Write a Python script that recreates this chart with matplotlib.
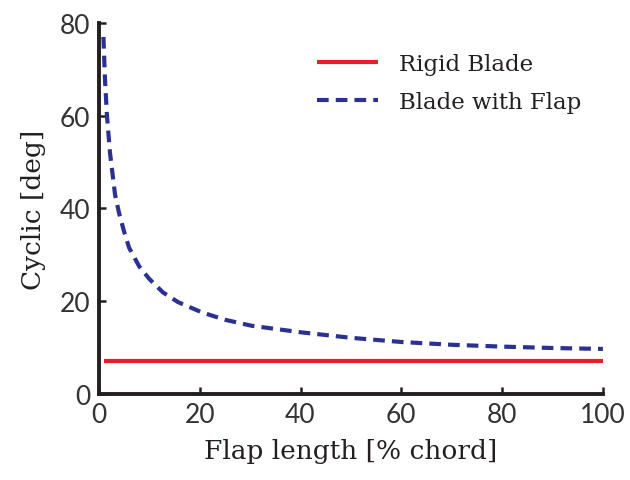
import matplotlib.pyplot as plt

# flap length [% chord]
flap_len = [0.9, 1.2, 1.6, 2.2, 3.2, 4, 5, 6, 8, 10, 12.7, 15.7, 20.4, 25, 30.3, 40, 50, 60, 70, 80, 90, 100]
# cyclic pitch with flap [deg]
cyclic_flap = [77, 68, 60, 52, 43, 39, 35, 31.5, 27.5, 24.8, 21.9, 19.8, 17.6, 16, 14.7, 13.3, 12.1, 11.2, 10.6, 10.2, 9.9, 9.7]
# rigid blade cyclic [deg]
rigid_x = [1, 100]
rigid_y = [7, 7]

fig = plt.figure(figsize=(6.3, 4.81), dpi=100)
ax = fig.add_axes([0.157, 0.179, 0.8, 0.771])

ax.plot(rigid_x, rigid_y, color='#ee1c24', lw=3, label='Rigid Blade', solid_capstyle='butt')
ax.plot(flap_len, cyclic_flap, color='#2b3192', lw=3, dashes=(2.8, 1.7), label='Blade with Flap')

ax.set_xlim(0, 100)
ax.set_ylim(0, 80)
ax.set_xticks([0, 20, 40, 60, 80, 100])
ax.set_yticks([0, 20, 40, 60, 80])

for s in ['top', 'right']:
    ax.spines[s].set_visible(False)
for s in ['left', 'bottom']:
    ax.spines[s].set_linewidth(2.8)
    ax.spines[s].set_color('#231f20')

ax.tick_params(direction='in', length=5, width=1.8, color='#231f20', labelsize=19,
               labelcolor='#333333', pad=6)
for lab in ax.get_xticklabels() + ax.get_yticklabels():
    lab.set_family('Lato')

ax.set_xlabel('Flap length [% chord]', family='DejaVu Serif', fontsize=19, color='#231f20', labelpad=8)
ax.set_ylabel('Cyclic [deg]', family='DejaVu Serif', fontsize=19, color='#231f20', labelpad=10)

leg = ax.legend(loc='upper right', bbox_to_anchor=(0.997, 0.975), frameon=False,
                prop={'family': 'DejaVu Serif', 'size': 16.5}, handlelength=2.66,
                labelspacing=0.7, handletextpad=0.9)
for t in leg.get_texts():
    t.set_color('#231f20')

fig.savefig('out.png', dpi=100)
